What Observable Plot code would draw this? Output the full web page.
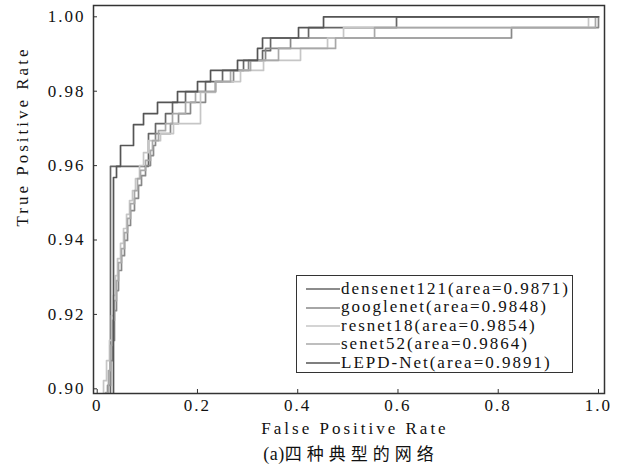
<!DOCTYPE html>
<html><head><meta charset="utf-8">
<script src="https://cdn.jsdelivr.net/npm/d3@7"></script>
<script src="https://cdn.jsdelivr.net/npm/@observablehq/plot@0.6"></script>
<style>
html,body{margin:0;padding:0;background:#fff;}
#wrap{position:relative;width:619px;height:473px;overflow:hidden;}
#legend{position:absolute;left:296px;top:275px;width:277px;height:98px;box-sizing:border-box;border:1px solid #333;background:#fff;padding:4px 0 0 0;font-family:"Liberation Serif",serif;font-size:17px;letter-spacing:2px;line-height:18.4px;color:#111;}
.row{display:flex;align-items:center;height:18.4px;white-space:nowrap;}
.row svg{margin-left:9px;margin-right:1px;flex:none;}
#caption{position:absolute;left:0;width:702px;top:443px;line-height:20px;text-align:center;font-family:"Noto Sans CJK SC",sans-serif;font-size:17px;color:#111;}
#caption .lat{font-family:"Liberation Serif",serif;font-size:18px;letter-spacing:0.5px;}
#caption .cjk{letter-spacing:5px;}
</style>
</head><body>
<div id="wrap"></div>
<script>
const models = ["densenet121", "googlenet", "resnet18", "senet52", "LEPD-Net"];
const areas = ["0.9871", "0.9848", "0.9854", "0.9864", "0.9891"];
const modelColors = ["#666666", "#888888", "#c6c6c6", "#a8a8a8", "#555555"];

const densenetFpr = [0.0265, 0.0265, 0.1023, 0.1163, 0.1363, 0.1502, 0.1762, 0.2161, 0.2500, 0.2919, 0.3298, 0.3458, 0.4216, 0.5971, 1.0];
const densenetTpr = [0.85, 0.9598, 0.9686, 0.9713, 0.9740, 0.9770, 0.9799, 0.9826, 0.9856, 0.9883, 0.9909, 0.9943, 0.9971, 1.0, 1.0];

const googlenetFpr = [0.0206, 0.0206, 0.0265, 0.0305, 0.0345, 0.0385, 0.0425, 0.0485, 0.0545, 0.0605, 0.0665, 0.0744, 0.0824, 0.0884, 0.0964, 0.1063, 0.1123, 0.1163, 0.1462, 0.1622, 0.1861, 0.2161, 0.2360, 0.2720, 0.3019, 0.3358, 0.3857, 0.8265, 1.0];
const googlenetTpr = [0.85, 0.9009, 0.9076, 0.9130, 0.9210, 0.9264, 0.9318, 0.9358, 0.9399, 0.9439, 0.9479, 0.9512, 0.9547, 0.9573, 0.9600, 0.9627, 0.9654, 0.9686, 0.9713, 0.9740, 0.9770, 0.9799, 0.9826, 0.9856, 0.9883, 0.9915, 0.9943, 0.9971, 1.0];

const resnetFpr = [0.0126, 0.0126, 0.0186, 0.0245, 0.0285, 0.0325, 0.0365, 0.0405, 0.0465, 0.0525, 0.0585, 0.0645, 0.0704, 0.0764, 0.0844, 0.0924, 0.1023, 0.1263, 0.1522, 0.2061, 0.2360, 0.2859, 0.3318, 0.4056, 0.4595, 0.4914, 0.9801, 1.0];
const resnetTpr = [0.85, 0.9022, 0.9076, 0.9130, 0.9197, 0.9251, 0.9304, 0.9350, 0.9391, 0.9431, 0.9469, 0.9506, 0.9533, 0.9565, 0.9600, 0.9635, 0.9667, 0.9686, 0.9713, 0.9797, 0.9826, 0.9856, 0.9883, 0.9915, 0.9943, 0.9971, 1.0, 1.0];

const senetFpr = [0.0166, 0.0166, 0.0225, 0.0265, 0.0305, 0.0345, 0.0385, 0.0425, 0.0485, 0.0545, 0.0605, 0.0665, 0.0744, 0.0804, 0.0864, 0.0964, 0.1063, 0.1103, 0.1223, 0.1363, 0.1502, 0.1762, 0.1961, 0.2360, 0.2660, 0.3059, 0.3617, 0.4755, 0.5533, 0.9940, 1.0];
const senetTpr = [0.85, 0.8990, 0.9049, 0.9117, 0.9184, 0.9237, 0.9291, 0.9339, 0.9377, 0.9420, 0.9458, 0.9498, 0.9533, 0.9565, 0.9587, 0.9614, 0.9641, 0.9667, 0.9694, 0.9713, 0.9740, 0.9770, 0.9799, 0.9826, 0.9856, 0.9883, 0.9915, 0.9943, 0.9971, 1.0, 1.0];

const lepdFpr = [0.0325, 0.0325, 0.0385, 0.0465, 0.0724, 0.0924, 0.1203, 0.1602, 0.2001, 0.2261, 0.2799, 0.3198, 0.3298, 0.4016, 0.4515, 1.0];
const lepdTpr = [0.85, 0.9568, 0.9598, 0.9654, 0.9710, 0.9740, 0.9770, 0.9799, 0.9826, 0.9856, 0.9883, 0.9915, 0.9943, 0.9971, 1.0, 1.0];

const xTicks = [0, 0.2, 0.4, 0.6, 0.8, 1.0];
const xTickLabels = ["0", "0.2", "0.4", "0.6", "0.8", "1.0"];
const yTicks = [0.90, 0.92, 0.94, 0.96, 0.98, 1.00];
const yTickLabels = ["0.90", "0.92", "0.94", "0.96", "0.98", "1.00"];
const xLabel = "False Positive Rate";
const yLabel = "True Positive Rate";
const captionText = "(a)四种典型的网络";

const series = [
  [densenetFpr, densenetTpr],
  [googlenetFpr, googlenetTpr],
  [resnetFpr, resnetTpr],
  [senetFpr, senetTpr],
  [lepdFpr, lepdTpr]
];
const rows = [];
series.forEach(([f, t], k) => f.forEach((v, i) => rows.push({model: models[k], fpr: v, tpr: t[i]})));

const plot = Plot.plot({
  width: 619,
  height: 473,
  marginLeft: 93,
  marginRight: 15,
  marginTop: 5,
  marginBottom: 80,
  x: {domain: [-0.0074, 1.012], label: null},
  y: {domain: [0.89874, 1.00304], label: null},
  color: {domain: models, range: modelColors},
  style: {fontFamily: "Liberation Serif, serif", fontSize: "17px", letterSpacing: "2px", color: "#111", background: "#fff"},
  marks: [
    Plot.line(rows, {x: "fpr", y: "tpr", z: "model", stroke: "model", curve: "step-after", strokeWidth: 1.7, clip: true}),
    Plot.frame({stroke: "#333", strokeWidth: 1.5}),
    Plot.axisX(xTicks, {tickSize: -4, tickPadding: 9, stroke: "#333", fill: "#111", tickFormat: d => xTickLabels[xTicks.indexOf(d)]}),
    Plot.axisY(yTicks, {tickSize: -4, tickPadding: 12, stroke: "#333", fill: "#111", tickFormat: d => yTickLabels[yTicks.indexOf(d)]}),
    Plot.text([xLabel], {frameAnchor: "bottom", dx: 6, dy: 40, text: d => d, fill: "#111", className: "axis-title"}),
    Plot.text([yLabel], {frameAnchor: "left", rotate: -90, dx: -71, dy: 27, text: d => d, fill: "#111", className: "axis-title"})
  ]
});
d3.select(plot).selectAll(".axis-title text").attr("letter-spacing", "3px");
const wrap = document.getElementById("wrap");
wrap.appendChild(plot);

const legend = document.createElement("div");
legend.id = "legend";
models.forEach((m, i) => {
  const row = document.createElement("div");
  row.className = "row";
  row.innerHTML = `<svg width="34" height="4"><line x1="0" x2="34" y1="2" y2="2" stroke="${modelColors[i]}" stroke-width="1.6"/></svg><span>${m}(area=${areas[i]})</span>`;
  legend.appendChild(row);
});
wrap.appendChild(legend);

const cap = document.createElement("div");
cap.id = "caption";
const lat = document.createElement("span");
lat.className = "lat";
lat.textContent = captionText.slice(0, 3);
const cjk = document.createElement("span");
cjk.className = "cjk";
cjk.textContent = captionText.slice(3);
cap.appendChild(lat);
cap.appendChild(cjk);
wrap.appendChild(cap);
</script>
</body></html>
